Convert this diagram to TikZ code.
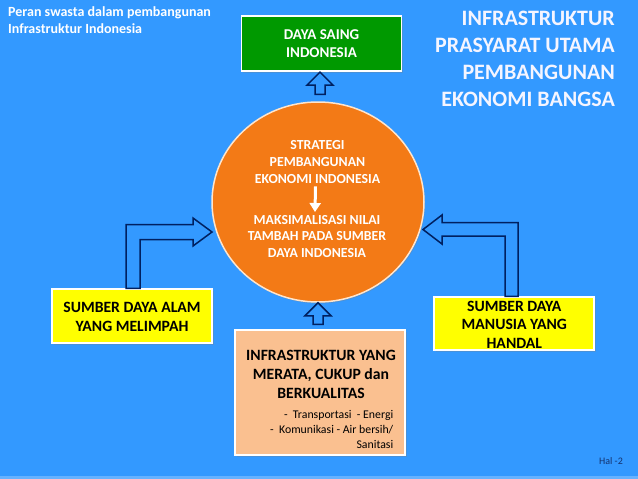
\documentclass[tikz,border=0pt]{standalone}
\usepackage{fontspec}
\setmainfont{Carlito}
\usepackage{xcolor}
\usepackage{tikz}
\usetikzlibrary{arrows.meta, positioning, calc, shapes.geometric, shadows}

\definecolor{slideblue}{RGB}{51,153,255}
\definecolor{sainggreen}{RGB}{0,153,0}
\definecolor{stratorange}{RGB}{243,122,22}
\definecolor{sdyellow}{RGB}{255,255,0}
\definecolor{infrapeach}{RGB}{250,192,144}
\definecolor{arrownavy}{RGB}{0,32,96}
\definecolor{halblue}{RGB}{20,50,110}

% up block arrow: #1 = foot of the shaft, #2 = tip
\newcommand{\uparr}[2]{%
  \draw[blockarr] let \p1=(#1), \p2=(#2) in
    ({\x2-5pt},\y1) -- ({\x2-5pt},{\y2-13pt}) -- ({\x2-13pt},{\y2-13pt})
    -- (\p2) -- ({\x2+13pt},{\y2-13pt}) -- ({\x2+5pt},{\y2-13pt})
    -- ({\x2+5pt},\y1) -- cycle;}

\begin{document}
\begin{tikzpicture}[
    x=1pt, y=-1pt,
    >=Latex,
    font=\bfseries,
    box/.style={draw=white, line width=1.2pt, inner sep=0pt,
        drop shadow={opacity=0.3, shadow xshift=1.5pt, shadow yshift=-1.5pt}},
    blockarr/.style={draw=arrownavy, line width=1.5pt, line join=miter},
    txt/.style={inner sep=0pt, align=center}
]

% =========================================================
% background
% =========================================================
\fill[slideblue] (0,0) rectangle (638,479);
\fill[slideblue!75!white] (0,476) rectangle (638,479);
\useasboundingbox (0,0) rectangle (638,479);

% headings
\node[anchor=north west, align=left, text=white, inner sep=0pt,
      font=\bfseries\fontsize{14}{17}\selectfont] (catatan) at (8,6)
    {Peran swasta dalam pembangunan\\Infrastruktur Indonesia};
\node[anchor=east, align=right, text=white!96!blue, inner sep=0pt,
      font=\bfseries\fontsize{22}{27}\selectfont] (judul) at (615,59)
    {INFRASTRUKTUR\\PRASYARAT UTAMA\\PEMBANGUNAN\\EKONOMI BANGSA};

% =========================================================
% centre: strategy circle
% =========================================================
\node[ellipse, fill=stratorange, draw=white!80!orange, line width=1.5pt,
      minimum width=212pt, minimum height=200pt,
      drop shadow={opacity=0.35, shadow xshift=1pt, shadow yshift=-1.5pt}] (strat) at (318,202) {};
\node[txt, text=white, font=\bfseries\fontsize{13.8}{16.7}\selectfont] (tstrat) at (317.5,162)
    {STRATEGI\\PEMBANGUNAN\\EKONOMI INDONESIA};
\node[txt, text=white, font=\bfseries\fontsize{13.8}{16.7}\selectfont] (tmaks) at (317,236.5)
    {MAKSIMALISASI NILAI\\TAMBAH PADA SUMBER\\DAYA INDONESIA};
\draw[-{Triangle[width=11pt,length=9pt]}, white, line width=3pt]
    ($(tstrat.south)+(-2,3)$) -- ($(tmaks.north)+(-2,-3)$);

% =========================================================
% boxes
% =========================================================
\node[box, fill=sainggreen, minimum width=160pt, minimum height=55pt] (saing) at (321.5,43.5) {};
\node[txt, text=white, font=\bfseries\fontsize{15}{18.3}\selectfont] at (saing) {DAYA SAING\\INDONESIA};

\node[box, fill=sdyellow, minimum width=160pt, minimum height=54pt] (alam) at (132,316) {};
\node[txt, font=\bfseries\fontsize{15.7}{19.2}\selectfont] at (132,317) {SUMBER DAYA ALAM\\YANG MELIMPAH};

\node[box, fill=sdyellow, minimum width=160pt, minimum height=53pt] (manusia) at (514,323.5) {};
\node[txt, font=\bfseries\fontsize{15.7}{18.6}\selectfont] at (514.3,324.5) {SUMBER DAYA\\MANUSIA YANG\\HANDAL};

\node[box, fill=infrapeach, minimum width=170pt, minimum height=125pt] (infra) at (320,392.5) {};
\node[txt, font=\bfseries\fontsize{15.7}{18.8}\selectfont] (tinfra) at (321,374.5)
    {INFRASTRUKTUR YANG\\MERATA, CUKUP dan\\BERKUALITAS};
\node[inner sep=0pt, align=right, anchor=east, font=\mdseries\fontsize{11.8}{15}\selectfont] (jenis) at (393.5,429)
    {-\ \ Transportasi\ \ - Energi\\-\ \ Komunikasi - Air bersih/\\Sanitasi};

% =========================================================
% block arrows
% =========================================================
\uparr{$(strat.north)+(0,-7)$}{$(saing.south)+(-1.5,0.5)$}
\uparr{$(infra.north)+(0,-5)$}{strat.south}

\coordinate (ujungkiri) at ($(strat.center)+(-106,30)$);
\coordinate (ujungkanan) at ($(strat.center)+(105,27.5)$);

% left bent arrow
\draw[blockarr] let \p1=(alam.north), \p2=(ujungkiri) in
    ({\x1-6pt},\y1) -- ({\x1-6pt},{\y2+7.5pt}) -- ({\x2-19pt},{\y2+7.5pt})
    -- ({\x2-19pt},{\y2+14pt}) -- (\p2) -- ({\x2-19pt},{\y2-14pt})
    -- ({\x2-19pt},{\y2-7.5pt}) -- ({\x1+8pt},{\y2-7.5pt}) -- ({\x1+8pt},\y1) -- cycle;

% right bent arrow
\draw[blockarr] let \p1=(manusia.north), \p2=(ujungkanan) in
    ({\x1+4pt},\y1) -- ({\x1+4pt},{\y2+7pt}) -- ({\x2+19pt},{\y2+7pt})
    -- ({\x2+19pt},{\y2+14.5pt}) -- (\p2) -- ({\x2+19pt},{\y2-14.5pt})
    -- ({\x2+19pt},{\y2-6.5pt}) -- ({\x1-9pt},{\y2-6.5pt}) -- ({\x1-9pt},\y1) -- cycle;

% page number
\node[inner sep=0pt, text=halblue, font=\mdseries\fontsize{10}{12}\selectfont] (hal) at (611,461) {Hal -2};

\end{tikzpicture}
\end{document}
